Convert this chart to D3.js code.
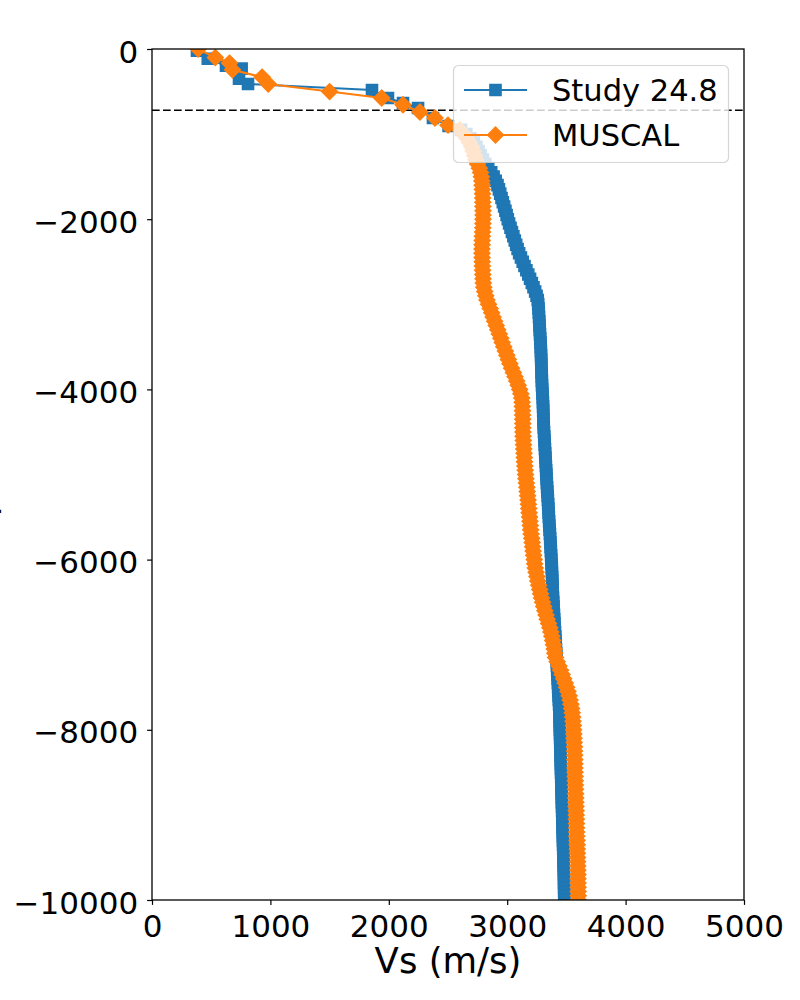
<!DOCTYPE html>
<html lang="en">
<head>
<meta charset="UTF-8">
<title>Vs profile: Study 24.8 vs MUSCAL</title>
<script src="https://d3js.org/d3.v7.min.js"></script>
<style>
  body { margin: 0; background: #fff; }
  svg { display: block; font-family: "DejaVu Sans", sans-serif; }
</style>
</head>
<body>
<svg width="800" height="1000"></svg>
<script>
// shallow points (sparser) for each model
const studyShallowDepth = [-20, -114, -196, -231, -349, -411, -482, -576, -635, -693, -811, -905];
const studyShallowVs    = [380, 471, 625, 757, 735, 811, 1858, 1993, 2120, 2247, 2373, 2505];
const muscalShallowDepth = [0, -100, -165, -245, -330, -411, -500, -576, -655, -740, -811, -895];
const muscalShallowVs    = [390, 535, 655, 680, 930, 982, 1500, 1940, 2120, 2263, 2390, 2500];

// deeper points, every 50 m
const deepDepth = [
  -950, -1000,
  -1050, -1100, -1150, -1200, -1250, -1300, -1350, -1400, -1450, -1500,
  -1550, -1600, -1650, -1700, -1750, -1800, -1850, -1900, -1950, -2000,
  -2050, -2100, -2150, -2200, -2250, -2300, -2350, -2400, -2450, -2500,
  -2550, -2600, -2650, -2700, -2750, -2800, -2850, -2900, -2950, -3000,
  -3050, -3100, -3150, -3200, -3250, -3300, -3350, -3400, -3450, -3500,
  -3550, -3600, -3650, -3700, -3750, -3800, -3850, -3900, -3950, -4000,
  -4050, -4100, -4150, -4200, -4250, -4300, -4350, -4400, -4450, -4500,
  -4550, -4600, -4650, -4700, -4750, -4800, -4850, -4900, -4950, -5000,
  -5050, -5100, -5150, -5200, -5250, -5300, -5350, -5400, -5450, -5500,
  -5550, -5600, -5650, -5700, -5750, -5800, -5850, -5900, -5950, -6000,
  -6050, -6100, -6150, -6200, -6250, -6300, -6350, -6400, -6450, -6500,
  -6550, -6600, -6650, -6700, -6750, -6800, -6850, -6900, -6950, -7000,
  -7050, -7100, -7150, -7200, -7250, -7300, -7350, -7400, -7450, -7500,
  -7550, -7600, -7650, -7700, -7750, -7800, -7850, -7900, -7950, -8000,
  -8050, -8100, -8150, -8200, -8250, -8300, -8350, -8400, -8450, -8500,
  -8550, -8600, -8650, -8700, -8750, -8800, -8850, -8900, -8950, -9000,
  -9050, -9100, -9150, -9200, -9250, -9300, -9350, -9400, -9450, -9500,
  -9550, -9600, -9650, -9700, -9750, -9800, -9850, -9900, -9950, -10000
];
const studyDeepVs = [
  2610, 2655,
  2690, 2718, 2740, 2758, 2775, 2795, 2815, 2840, 2865, 2885,
  2903, 2918, 2930, 2941, 2952, 2963, 2974, 2985, 2995, 3005,
  3016, 3028, 3040, 3052, 3064, 3076, 3088, 3101, 3116, 3131,
  3146, 3162, 3178, 3193, 3208, 3222, 3236, 3248, 3258, 3262,
  3265, 3267, 3269, 3271, 3273, 3275, 3277, 3279, 3281, 3283,
  3285, 3286, 3287, 3288, 3289, 3290, 3292, 3293, 3294, 3296,
  3298, 3300, 3302, 3303, 3304, 3305, 3306, 3307, 3309, 3311,
  3313, 3315, 3317, 3319, 3321, 3323, 3325, 3327, 3329, 3331,
  3333, 3335, 3337, 3339, 3342, 3344, 3346, 3348, 3350, 3352,
  3354, 3356, 3358, 3361, 3363, 3365, 3367, 3369, 3371, 3373,
  3375, 3377, 3378, 3380, 3381, 3383, 3384, 3385, 3387, 3389,
  3391, 3393, 3395, 3397, 3399, 3401, 3404, 3406, 3408, 3410,
  3412, 3414, 3416, 3418, 3420, 3422, 3424, 3426, 3428, 3430,
  3432, 3434, 3436, 3438, 3440, 3441, 3442, 3443, 3444, 3445,
  3446, 3447, 3448, 3449, 3450, 3451, 3452, 3453, 3454, 3455,
  3456, 3457, 3458, 3459, 3460, 3461, 3462, 3463, 3464, 3465,
  3466, 3467, 3468, 3469, 3470, 3471, 3472, 3473, 3474, 3475,
  3476, 3477, 3478, 3479, 3480, 3480, 3481, 3481, 3482, 3482
];
const muscalDeepVs = [
  2600, 2630,
  2660, 2682, 2700, 2712, 2724, 2735, 2750, 2765, 2775, 2782,
  2786, 2788, 2790, 2792, 2793, 2794, 2795, 2796, 2796, 2796,
  2795, 2794, 2792, 2790, 2789, 2788, 2787, 2787, 2788, 2789,
  2790, 2792, 2794, 2796, 2798, 2802, 2810, 2819, 2829, 2842,
  2856, 2869, 2881, 2894, 2907, 2920, 2933, 2946, 2958, 2971,
  2984, 2997, 3010, 3023, 3037, 3052, 3066, 3080, 3093, 3105,
  3115, 3123, 3126, 3128, 3129, 3130, 3131, 3132, 3132, 3133,
  3134, 3136, 3138, 3140, 3142, 3144, 3146, 3149, 3152, 3155,
  3158, 3162, 3166, 3169, 3172, 3176, 3179, 3182, 3185, 3189,
  3192, 3195, 3198, 3202, 3207, 3211, 3215, 3219, 3223, 3228,
  3232, 3237, 3244, 3251, 3258, 3266, 3274, 3282, 3290, 3299,
  3308, 3318, 3328, 3338, 3349, 3360, 3369, 3377, 3384, 3391,
  3397, 3402, 3408, 3422, 3437, 3451, 3464, 3477, 3490, 3502,
  3513, 3523, 3531, 3538, 3544, 3549, 3553, 3556, 3559, 3561,
  3563, 3564, 3566, 3568, 3569, 3570, 3571, 3572, 3572, 3573,
  3574, 3575, 3576, 3577, 3578, 3579, 3580, 3581, 3582, 3583,
  3584, 3585, 3586, 3587, 3588, 3590, 3591, 3592, 3593, 3594,
  3595, 3596, 3597, 3598, 3598, 3598, 3599, 3599, 3600, 3600
];

const xTicks = [0, 1000, 2000, 3000, 4000, 5000];
const yTicks = [0, -2000, -4000, -6000, -8000, -10000];
const refDepth = -720;   // dashed horizontal line

const svg = d3.select("svg");
const margin = { top: 49, right: 56, bottom: 100, left: 152 };
const plotW = 800 - margin.left - margin.right;
const plotH = 1000 - margin.top - margin.bottom;

const x = d3.scaleLinear().domain([0, 5000]).range([margin.left, margin.left + plotW]);
const y = d3.scaleLinear().domain([-10000, 0]).range([margin.top + plotH, margin.top]);

const zip = (ds, vs) => ds.map((d, i) => ({ depth: d, vs: vs[i] }));
const series = [
  { name: "Study 24.8", color: "#1f77b4", marker: "square",
    data: zip(studyShallowDepth, studyShallowVs).concat(zip(deepDepth, studyDeepVs)) },
  { name: "MUSCAL", color: "#ff7f0e", marker: "diamond",
    data: zip(muscalShallowDepth, muscalShallowVs).concat(zip(deepDepth, muscalDeepVs)) }
];

const MS = 11.2;  // marker side in px
const markerPath = d3.symbol().type(d3.symbolSquare).size(MS * MS)();
const markerTransform = (m, px, py) =>
  `translate(${px},${py})` + (m === "diamond" ? " rotate(45)" : "");

svg.append("defs").append("clipPath").attr("id", "plotclip")
  .append("rect")
  .attr("x", margin.left).attr("y", margin.top)
  .attr("width", plotW).attr("height", plotH);

// dashed reference line (under the data)
svg.append("line")
  .attr("x1", x(0)).attr("x2", x(5000))
  .attr("y1", y(refDepth)).attr("y2", y(refDepth))
  .attr("stroke", "#000").attr("stroke-width", 1.4)
  .attr("stroke-dasharray", "7.7,3.3");

const plot = svg.append("g").attr("clip-path", "url(#plotclip)");
const line = d3.line().x(d => x(d.vs)).y(d => y(d.depth));

series.forEach(s => {
  const g = plot.append("g");
  g.append("path")
    .datum(s.data)
    .attr("fill", "none")
    .attr("stroke", s.color)
    .attr("stroke-width", 2.1)
    .attr("d", line);
  g.selectAll("path.mk")
    .data(s.data)
    .join("path")
    .attr("class", "mk")
    .attr("d", markerPath)
    .attr("transform", d => markerTransform(s.marker, x(d.vs), y(d.depth)))
    .attr("fill", s.color)
    .attr("stroke", s.color)
    .attr("stroke-width", 1.4);
});

// axes
const fmt = d3.format("d");
const xAxis = svg.append("g")
  .attr("transform", `translate(0,${margin.top + plotH})`)
  .call(d3.axisBottom(x).tickValues(xTicks).tickFormat(fmt).tickSize(4.9).tickSizeOuter(0));
xAxis.selectAll("text").attr("y", 37).attr("dy", 0);

const yAxis = svg.append("g")
  .attr("transform", `translate(${margin.left},0)`)
  .call(d3.axisLeft(y).tickValues(yTicks).tickFormat(fmt).tickSize(4.9).tickPadding(9).tickSizeOuter(0));
yAxis.selectAll("text").attr("dy", "0.42em");

[xAxis, yAxis].forEach(a => {
  a.attr("font-size", 31).attr("font-family", "DejaVu Sans, sans-serif");
  a.select(".domain").remove();
  a.selectAll("line").attr("stroke", "#000").attr("stroke-width", 1.2);
  a.selectAll("text").attr("fill", "#000");
});

// frame
svg.append("rect")
  .attr("x", margin.left).attr("y", margin.top)
  .attr("width", plotW).attr("height", plotH)
  .attr("fill", "none").attr("stroke", "#000").attr("stroke-width", 1.3);

// axis labels
svg.append("text")
  .attr("x", x(2500)).attr("y", 973)
  .attr("text-anchor", "middle")
  .attr("font-size", 35.5)
  .text("Vs (m/s)");

svg.append("text")
  .attr("transform", `translate(-6,${margin.top + plotH / 2}) rotate(-90)`)
  .attr("text-anchor", "middle")
  .attr("font-size", 35.5)
  .text("Depth (m)");

// legend
const legend = svg.append("g");
legend.append("rect")
  .attr("x", 453.5).attr("y", 65.5).attr("width", 275).attr("height", 97)
  .attr("rx", 5)
  .attr("fill", "#fff").attr("fill-opacity", 0.8)
  .attr("stroke", "#ccc").attr("stroke-opacity", 0.8).attr("stroke-width", 1.2);

const legendRows = [90, 135];
series.forEach((s, i) => {
  const ly = legendRows[i];
  legend.append("line")
    .attr("x1", 464).attr("x2", 527).attr("y1", ly).attr("y2", ly)
    .attr("stroke", s.color).attr("stroke-width", 2.1);
  legend.append("path")
    .attr("d", markerPath)
    .attr("transform", markerTransform(s.marker, 495.5, ly))
    .attr("fill", s.color).attr("stroke", s.color).attr("stroke-width", 1.4);
  legend.append("text")
    .attr("x", 552).attr("y", ly + 10.5)
    .attr("font-size", 30.5)
    .text(s.name);
});
</script>
</body>
</html>
